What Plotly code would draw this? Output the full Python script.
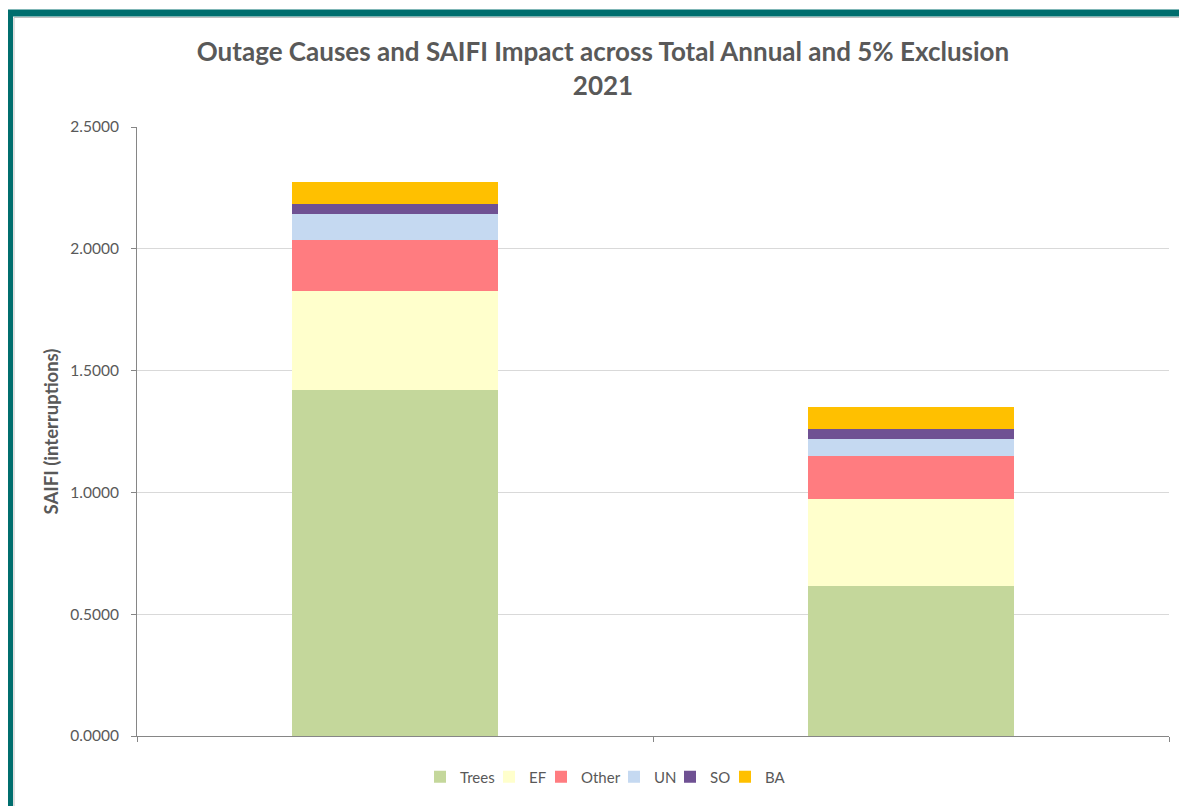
import plotly.graph_objects as go

categories = ["Total Annual", "5% Exclusion"]
series_names = ["Trees", "EF", "Other", "UN", "SO", "BA"]
trees = [1.420, 0.616]
ef = [0.407, 0.356]
other = [0.209, 0.179]
un = [0.106, 0.067]
so = [0.041, 0.041]
ba = [0.091, 0.092]
y_ticks = [0.0, 0.5, 1.0, 1.5, 2.0, 2.5]
y_tick_labels = ["0.0000", "0.5000", "1.0000", "1.5000", "2.0000", "2.5000"]

colors = ["#C4D79B", "#FFFFCC", "#FF7C80", "#C5D9F1", "#6F5193", "#FFC000"]
values = [trees, ef, other, un, so, ba]
# screen x where each legend swatch begins (layout)
legend_sym_x = [434, 503, 555, 628, 684, 739]

OFF = 8  # page body margin
W, H = 1187 - OFF, 806 - OFF
L, R, T, B = 137 - OFF, 18, 127 - OFF, 70
pw, ph = W - L - R, H - T - B

def px(x):  # screen x -> paper x
    return (x - OFF - L) / pw

def py(y):  # screen y -> paper y
    return (H - B - (y - OFF)) / ph

FONT = "Lato, Open Sans, sans-serif"
GREY = "#595959"

fig = go.Figure()
for i, (name, vals, c) in enumerate(zip(series_names, values, colors)):
    lg = "legend" if i == 0 else f"legend{i + 1}"
    fig.add_trace(go.Bar(x=categories, y=vals, name=name,
                         marker=dict(color=c, line=dict(width=0)), width=0.4,
                         legend=lg))

legends = {}
for i, sx in enumerate(legend_sym_x):
    key = "legend" if i == 0 else f"legend{i + 1}"
    legends[key] = dict(
        orientation="h", x=px(sx - 14), xanchor="left", y=py(777), yanchor="middle",
        font=dict(size=15, color=GREY, family=FONT), bgcolor="rgba(0,0,0,0)",
    )

fig.update_layout(
    width=W, height=H,
    margin=dict(l=L, r=R, t=T, b=B),
    barmode="stack",
    paper_bgcolor="white", plot_bgcolor="white",
    font=dict(family=FONT, color=GREY, size=14),
    title=dict(
        text="<b>Outage Causes and SAIFI Impact across Total Annual and 5% Exclusion<br>2021</b>",
        x=(603 - OFF) / W, xanchor="center", xref="container",
        y=1 - (61 - OFF) / H, yanchor="top", yref="container",
        font=dict(size=26, color=GREY, family=FONT),
    ),
    showlegend=True,
    **legends,
)
fig.update_xaxes(
    showticklabels=False, tickson="boundaries", ticks="outside", ticklen=5,
    tickcolor="#868686", showline=True, linecolor="#868686", linewidth=1,
    showgrid=False, range=[-0.5, 1.5],
)
fig.update_yaxes(
    range=[0, 2.5], tickvals=y_ticks, ticktext=y_tick_labels,
    ticks="outside", ticklen=5, tickcolor="#868686",
    showline=True, linecolor="#868686", linewidth=1,
    showgrid=True, gridcolor="#D9D9D9", gridwidth=1,
    tickfont=dict(size=15.5, color=GREY), ticklabelstandoff=9,
    title=dict(text="<b>SAIFI (interruptions)</b>", font=dict(size=18.5, color=GREY), standoff=6),
    zeroline=False,
)

# frame border (teal band at top and left, thin grey inner line)
fig.add_shape(type="rect", xref="paper", yref="paper",
              x0=px(9.5), x1=px(1187 + 30), y0=py(806 + 30), y1=py(13),
              line=dict(color="#006E6E", width=7), fillcolor="rgba(0,0,0,0)", layer="above")
fig.add_shape(type="rect", xref="paper", yref="paper",
              x0=px(14), x1=px(1187 + 30), y0=py(806 + 30), y1=py(17.5),
              line=dict(color="#BFBFBF", width=1), fillcolor="rgba(0,0,0,0)", layer="above")

fig.write_html("out.html")
